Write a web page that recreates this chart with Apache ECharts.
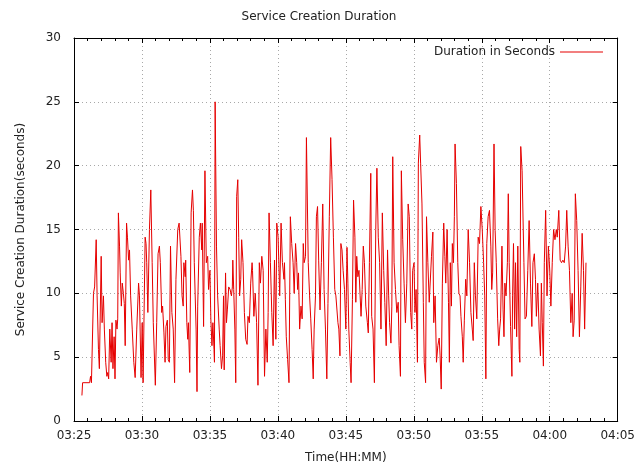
<!DOCTYPE html>
<html>
<head>
<meta charset="utf-8">
<script src="https://cdn.jsdelivr.net/npm/echarts@6/dist/echarts.min.js"></script>
<style>
  html, body { margin: 0; padding: 0; background: #fff; }
  #main { width: 638px; height: 469px; }
</style>
</head>
<body>
<div id="main"></div>
<script>
// x 轴刻度 (每 5 分钟一个)
var tickLabels = ['03:25', '03:30', '03:35', '03:40', '03:45', '03:50', '03:55', '04:00', '04:05'];

// 采样时刻: 03:25:00 之后的秒数
var secs = [
  35, 38, 69, 73, 77, 83, 86, 91, 98, 102, 108, 112, 120, 124, 130, 134, 140, 145, 149, 153,
  158, 164, 168, 172, 177, 181, 185, 190, 193, 196, 201, 204, 209, 213, 218, 222, 226, 232, 236, 241,
  245, 250, 257, 264, 270, 277, 285, 289, 296, 301, 305, 314, 318, 321, 326, 333, 339, 345, 350, 359,
  365, 371, 377, 381, 387, 391, 397, 402, 406, 412, 416, 421, 426, 432, 438, 444, 450, 458, 464, 472,
  477, 482, 485, 491, 493, 498, 502, 505, 511, 517, 523, 527, 531, 539, 543, 546, 553, 558, 564, 566,
  572, 578, 584, 590, 594, 600, 604, 609, 613, 618, 620, 623, 629, 634, 641, 645, 651, 656, 660, 663,
  669, 673, 677, 683, 689, 695, 699,
  701, 705, 710, 714, 718, 723, 727, 731, 736, 740, 746, 752, 758, 764, 768, 774, 780, 786, 788, 794,
  800, 806, 812, 818, 823, 829, 835, 841, 847, 853, 857, 861, 867, 873, 879, 885, 891, 895, 901, 908,
  914, 920, 927,
  929, 933, 937, 943, 949, 955, 961, 967, 972, 978, 983, 987, 991, 996, 1002, 1007, 1012, 1016, 1022, 1026,
  1034, 1040, 1045, 1051, 1056, 1060, 1066, 1070, 1075, 1080, 1086, 1092, 1098, 1104, 1110, 1116, 1121, 1127, 1133, 1139,
  1145, 1151, 1156,
  1161, 1165, 1169, 1174, 1178, 1183, 1188, 1194, 1200, 1205, 1209, 1213, 1219, 1223, 1229, 1234, 1240, 1244, 1248, 1253,
  1258, 1263, 1267, 1272, 1277, 1282, 1288, 1295, 1299, 1304, 1310, 1314, 1320, 1326, 1332, 1337, 1343, 1349, 1355, 1361,
  1367, 1372, 1378, 1384,
  1389, 1393, 1399, 1403, 1407, 1413, 1419, 1425, 1431, 1435, 1441, 1445, 1451, 1457, 1463, 1469, 1475, 1480, 1486, 1491,
  1495, 1501, 1505, 1510, 1516, 1520, 1526, 1530, 1536, 1542, 1546, 1552, 1556, 1562, 1568, 1574, 1578, 1584, 1588, 1594,
  1600, 1606, 1612,
  1616, 1621, 1626, 1632, 1637, 1641, 1647, 1653, 1657, 1661, 1666, 1670, 1675, 1679, 1682, 1688, 1694, 1699, 1704, 1708,
  1714, 1718, 1723, 1729, 1734, 1740, 1746, 1752, 1758, 1762, 1767, 1772, 1778, 1784, 1790, 1796, 1802, 1808, 1813, 1818,
  1822, 1828, 1834,
  1840, 1844, 1848, 1854, 1859, 1864, 1870, 1875, 1879, 1883, 1889, 1894, 1898, 1902, 1907, 1913, 1917, 1921, 1927, 1933,
  1936, 1940, 1945, 1949, 1954, 1959, 1965, 1968, 1972, 1978, 1986, 1991, 1997, 2003, 2009, 2015, 2021, 2026, 2032, 2037,
  2041, 2047, 2053, 2059, 2063, 2067,
  2072, 2076, 2082, 2088, 2094, 2100, 2105, 2111, 2117, 2123, 2129, 2133, 2140, 2146, 2152, 2158, 2164, 2170, 2175, 2181,
  2187, 2193, 2199, 2203, 2208, 2213, 2219, 2225, 2231, 2237, 2243, 2249, 2254, 2260
];

// 每次创建耗时 (秒)
var durations = [
  2.0, 3.0, 3.0, 3.5, 3.0, 3.0, 10.0, 10.5, 14.2, 9.8, 5.6, 4.1, 12.9, 7.7, 9.8, 7.2, 4.6, 3.5, 3.8, 3.3,
  7.2, 4.6, 7.7, 4.1, 6.6, 3.3, 7.9, 7.2, 8.0, 16.3, 13.7, 11.6, 9.0, 10.8, 10.0, 9.2, 5.9, 15.5, 14.4, 12.6,
  13.4, 9.8, 7.2, 4.6, 3.4, 7.2, 10.8, 9.8, 3.4, 7.7, 3.0, 14.4, 13.9, 12.4, 8.5, 15.0, 18.1, 12.4, 7.7, 2.8,
  7.7, 13.1, 13.7, 12.4, 8.5, 9.0, 6.9, 4.6, 7.4, 7.9, 4.8, 4.6, 13.7, 8.5, 7.2, 3.0, 11.1, 15.0, 15.5, 12.9,
  9.8, 9.0, 12.4, 11.3, 12.6, 7.7, 6.4, 7.7, 3.8, 16.3, 18.1, 16.5, 12.4, 7.2, 2.3, 9.0, 14.4, 15.5, 13.4, 15.5,
  7.4, 19.6, 12.4, 12.9, 10.3, 11.8, 8.0, 5.9, 7.7, 5.6, 4.6, 25.0, 13.7, 9.8, 7.2, 5.9, 4.1, 5.1, 9.8, 4.0,
  11.6, 7.7, 8.7, 10.5, 10.3, 9.8, 10.5,
  12.6, 10.3, 7.2, 3.0, 17.6, 18.9, 14.4, 9.8, 11.1, 14.2, 12.4, 8.5, 6.4, 6.0, 8.2, 7.7, 10.8, 12.4, 11.8, 8.2,
  10.0, 7.7, 2.8, 12.4, 10.8, 12.9, 11.8, 3.5, 7.2, 4.6, 8.5, 16.3, 12.4, 8.5, 5.9, 12.6, 6.4, 15.5, 14.4, 9.8,
  15.5, 12.4, 11.1,
  12.4, 9.5, 6.6, 4.8, 3.0, 16.0, 13.9, 12.4, 10.0, 13.9, 12.4, 10.3, 11.6, 7.2, 9.0, 8.0, 13.9, 12.4, 12.9, 22.2,
  12.4, 9.8, 8.0, 5.6, 3.3, 7.2, 9.8, 16.0, 16.8, 12.6, 8.7, 12.4, 17.0, 10.3, 7.2, 3.3, 9.2, 16.0, 22.2, 18.9,
  14.4, 10.3, 9.8,
  9.8, 7.7, 7.2, 5.1, 13.9, 13.4, 11.8, 10.3, 7.2, 13.6, 10.8, 7.2, 4.6, 3.0, 9.5, 17.3, 14.4, 9.3, 12.9, 11.3,
  11.8, 9.8, 8.2, 10.3, 13.7, 12.4, 9.0, 7.7, 6.9, 12.4, 19.4, 8.2, 7.2, 3.0, 15.0, 19.8, 14.4, 12.4, 7.2, 16.3,
  11.8, 9.3, 5.9, 13.4,
  9.8, 7.7, 6.1, 9.0, 20.7, 12.4, 10.3, 8.5, 9.3, 5.9, 3.5, 19.6, 14.2, 10.8, 7.7, 10.8, 17.0, 16.0, 8.5, 7.2,
  11.8, 12.4, 8.5, 10.3, 4.6, 20.2, 22.4, 20.2, 17.0, 9.3, 4.6, 3.0, 16.0, 12.4, 9.3, 9.3, 12.9, 14.8, 7.7, 9.8,
  4.6, 5.9, 6.5,
  5.1, 2.5, 10.8, 15.5, 12.9, 10.8, 15.0, 9.3, 4.6, 12.4, 9.0, 13.9, 12.4, 16.0, 21.7, 18.6, 12.4, 10.0, 9.8, 8.2,
  6.6, 4.6, 7.9, 11.1, 9.8, 15.0, 12.4, 8.5, 7.2, 6.3, 12.4, 9.8, 8.0, 14.4, 13.9, 16.8, 15.0, 12.4, 9.8, 3.3,
  13.9, 16.0, 16.5,
  13.7, 10.3, 11.6, 21.7, 14.9, 12.4, 8.0, 5.9, 7.2, 8.0, 13.7, 8.7, 6.6, 10.8, 9.8, 12.4, 17.8, 12.4, 7.4, 3.5,
  9.8, 13.9, 7.2, 12.4, 6.6, 13.7, 5.6, 4.6, 21.5, 19.6, 12.4, 8.0, 8.2, 11.8, 15.7, 10.8, 7.4, 12.4, 13.1, 11.1,
  8.2, 10.8, 7.2, 5.1, 10.8, 7.7,
  4.3, 12.4, 16.5, 9.8, 13.7, 11.8, 9.0, 12.4, 15.0, 14.2, 15.0, 14.4, 16.5, 12.6, 12.4, 12.6, 12.4, 13.7, 16.5, 13.7,
  11.8, 7.7, 10.0, 6.6, 7.9, 17.8, 15.7, 11.8, 6.6, 10.5, 14.7, 11.8, 7.2, 12.4
];

var FONT = 'DejaVu Sans';
var chart = echarts.init(document.getElementById('main'));

var points = secs.map(function (s, i) { return [s, durations[i]]; });

// 网格线 (gnuplot 风格的点线)
var gridLine = { show: true, lineStyle: { color: '#a8a8a8', width: 1, type: [1, 3] } };
var border = { show: true, onZero: false, lineStyle: { color: '#000', width: 1 } };

var xBase = {
  type: 'value', min: 0, max: 2400, interval: 300,
  axisLine: border,
  axisTick: { show: true, inside: true, length: 5, lineStyle: { color: '#000' } },
  minorTick: { show: true, splitNumber: 5, length: 3, lineStyle: { color: '#000' } }
};
var yBase = {
  type: 'value', min: 0, max: 30, interval: 5,
  axisLine: border,
  axisTick: { show: true, inside: true, length: 5, lineStyle: { color: '#000' } }
};

chart.setOption({
  animation: false,
  backgroundColor: '#fff',
  title: {
    text: 'Service Creation Duration',
    left: 'center', top: 6,
    textStyle: { fontFamily: FONT, fontSize: 12, fontWeight: 'normal', color: '#222' }
  },
  legend: {
    data: ['Duration in Seconds'],
    right: 30, top: 41,
    align: 'right',
    icon: 'rect', itemWidth: 43, itemHeight: 1,
    itemGap: 8,
    textStyle: { fontFamily: FONT, fontSize: 12, color: '#222' }
  },
  grid: { left: 74, right: 16, top: 38, bottom: 47 },
  xAxis: [
    Object.assign({}, xBase, {
      position: 'bottom',
      name: 'Time(HH:MM)', nameLocation: 'middle', nameGap: 31,
      nameTextStyle: { fontFamily: FONT, fontSize: 12, color: '#222' },
      axisLabel: {
        fontFamily: FONT, fontSize: 12, color: '#222', margin: 9,
        formatter: function (v) { return tickLabels[Math.round(v / 300)]; }
      },
      splitLine: gridLine
    }),
    Object.assign({}, xBase, { position: 'top', axisLabel: { show: false }, splitLine: { show: false } })
  ],
  yAxis: [
    Object.assign({}, yBase, {
      position: 'left',
      name: 'Service Creation Duration(seconds)', nameLocation: 'middle', nameGap: 47,
      nameTextStyle: { fontFamily: FONT, fontSize: 12, color: '#222' },
      axisLabel: { fontFamily: FONT, fontSize: 12, color: '#222', margin: 13 },
      splitLine: gridLine
    }),
    Object.assign({}, yBase, { position: 'right', axisLabel: { show: false }, splitLine: { show: false } })
  ],
  series: [{
    name: 'Duration in Seconds',
    type: 'line',
    data: points,
    showSymbol: false,
    symbol: 'none',
    color: '#e60000',
    lineStyle: { color: '#e60000', width: 1 }
  }]
});
</script>
</body>
</html>
